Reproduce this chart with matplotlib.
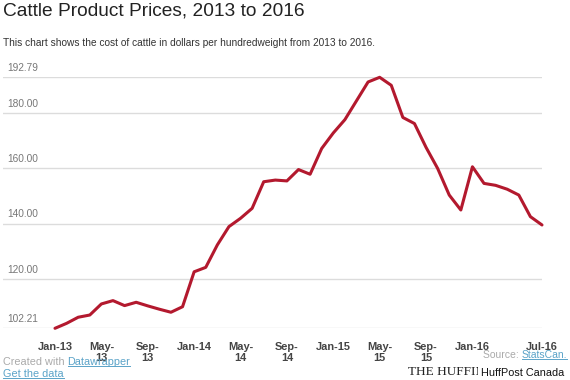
import matplotlib
matplotlib.use("Agg")
import matplotlib.pyplot as plt
from matplotlib.lines import Line2D
import numpy as np

plt.rcParams['font.family'] = ['Liberation Sans', 'DejaVu Sans']

# Monthly cattle prices, Jan-13 .. Jul-16 (dollars per hundredweight)
months = ["Jan-13", "Feb-13", "Mar-13", "Apr-13", "May-13", "Jun-13", "Jul-13", "Aug-13",
          "Sep-13", "Oct-13", "Nov-13", "Dec-13", "Jan-14", "Feb-14", "Mar-14", "Apr-14",
          "May-14", "Jun-14", "Jul-14", "Aug-14", "Sep-14", "Oct-14", "Nov-14", "Dec-14",
          "Jan-15", "Feb-15", "Mar-15", "Apr-15", "May-15", "Jun-15", "Jul-15", "Aug-15",
          "Sep-15", "Oct-15", "Nov-15", "Dec-15", "Jan-16", "Feb-16", "Mar-16", "Apr-16",
          "May-16", "Jun-16", "Jul-16"]
prices = [102.21, 104.0, 106.2, 107.0, 111.0, 112.2, 110.4, 111.6,
          110.3, 109.1, 108.0, 110.0, 122.6, 124.2, 132.3, 138.9,
          141.9, 145.5, 155.1, 155.7, 155.4, 159.5, 157.8, 167.1,
          172.7, 177.5, 184.3, 191.1, 192.79, 189.9, 178.3, 176.1,
          167.5, 159.9, 150.3, 144.9, 160.5, 154.5, 153.8, 152.4,
          150.3, 142.5, 139.5]
tick_months = ["Jan-13", "May-13", "Sep-13", "Jan-14", "May-14", "Sep-14",
               "Jan-15", "May-15", "Sep-15", "Jan-16", "Jul-16"]
tick_labels = ["Jan-13", "May-\n13", "Sep-\n13", "Jan-14", "May-\n14", "Sep-\n14",
               "Jan-15", "May-\n15", "Sep-\n15", "Jan-16", "Jul-16"]
y_ticks = [102.21, 120.00, 140.00, 160.00, 180.00, 192.79]

W, H = 570, 380
fig = plt.figure(figsize=(W / 100, H / 100), dpi=100)
fig.patch.set_facecolor("white")

left_px, right_px, data_left_px = 3, 542, 55
top_px, bottom_px = 77.3, 328.3
ax = fig.add_axes([left_px / W, 1 - bottom_px / H,
                   (right_px - left_px) / W, (bottom_px - top_px) / H])

x = np.arange(len(months))
ax.plot(x, prices, color="#b3192e", lw=2.2, solid_joinstyle="round",
        solid_capstyle="round", zorder=3, clip_on=False)

n = len(months) - 1
month_px = (right_px - data_left_px) / n
ax.set_xlim(-(data_left_px - left_px) / month_px, n)
ax.set_ylim(y_ticks[0], y_ticks[-1])

for s in ax.spines.values():
    s.set_visible(False)
ax.set_yticks([])
for v in y_ticks:
    ax.axhline(v, color="#dcdcdc", lw=1.0, zorder=1)
    ax.annotate(f"{v:.2f}", xy=(0, v), xycoords=("axes fraction", "data"),
                xytext=(3, 3), textcoords="offset points", ha="left", va="bottom",
                fontsize=7.3, color="#777777")

tick_pos = [months.index(m) for m in tick_months]
ax.set_xticks(tick_pos)
ax.set_xticklabels(tick_labels, fontsize=7.9, fontweight="bold", color="#444444",
                   linespacing=1.15, va="top")
ax.tick_params(axis="x", length=0, pad=10)

# Title and subtitle
fig.text(3 / W, 1 - 2.5 / H, "Cattle Product Prices, 2013 to 2016", fontsize=13.8,
         color="#222222", ha="left", va="top")
fig.text(3 / W, 1 - 43 / H, "This chart shows the cost of cattle in dollars per hundredweight from 2013 to 2016.",
         fontsize=7.3, color="#333333", ha="left", va="center")

# Footer
link_col = "#5aa3c8"
t1 = fig.text(3 / W, 1 - 362 / H, "Created with ", fontsize=7.8, color="#aaaaaa",
              ha="left", va="center")
fig.canvas.draw()
r = fig.canvas.get_renderer()
bb = t1.get_window_extent(r)
t2 = fig.text(bb.x1 / W, 1 - 362 / H, "Datawrapper", fontsize=7.8, color=link_col,
              ha="left", va="center")
t3 = fig.text(3 / W, 1 - 374 / H, "Get the data", fontsize=7.8, color=link_col,
              ha="left", va="center")

fig.text(408 / W, 1 - 372 / H, "THE HUFFINGTON POST", fontsize=9.5,
         family="Liberation Serif", color="#222222", ha="left", va="center")
fig.text(564 / W, 1 - 373 / H, "HuffPost Canada", fontsize=7.8, color="#111111",
         ha="right", va="center",
         bbox=dict(boxstyle="square,pad=0.3", fc="white", ec="none"))

t5 = fig.text(567 / W, 1 - 355 / H, "StatsCan.", fontsize=7.5, color=link_col,
              ha="right", va="center")
fig.canvas.draw()
bb5 = t5.get_window_extent(r)
fig.text(bb5.x0 / W, 1 - 355 / H, "Source: ", fontsize=7.5, color="#aaaaaa",
         ha="right", va="center")

fig.canvas.draw()
for t in (t2, t3, t5):
    b = t.get_window_extent(r)
    yline = (b.y0 + 1) / H
    fig.add_artist(Line2D([b.x0 / W, b.x1 / W], [yline, yline], color=link_col, lw=0.7))

fig.savefig("out.png", dpi=100, facecolor="white")
